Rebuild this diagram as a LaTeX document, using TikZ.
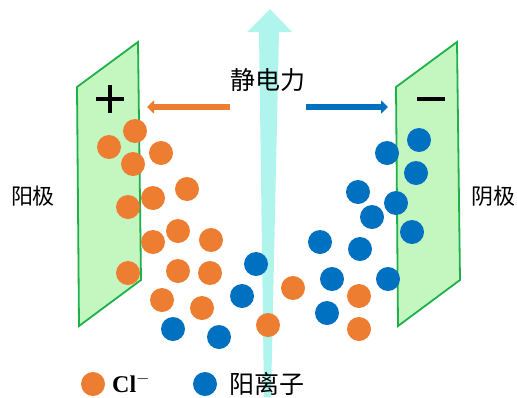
\documentclass[tikz,border=0pt]{standalone}
\usepackage{fontspec}
\setmainfont{Liberation Serif}
\newfontfamily\cjk{Noto Sans CJK SC}
\usetikzlibrary{arrows.meta}
\definecolor{clorange}{HTML}{ED7D31}
\definecolor{catblue}{HTML}{0070C0}
\definecolor{platefill}{HTML}{C4F6C0}
\definecolor{plateedge}{HTML}{1DB04B}
\definecolor{fieldcyan}{HTML}{B0F4EE}

\begin{document}
\begin{tikzpicture}[x=1pt, y=-1pt,
  plate/.style={draw=plateedge, fill=platefill, line width=1.8pt, line join=miter},
  ion/.style={circle, inner sep=0pt, minimum size=24pt},
  anion/.style={ion, fill=clorange},
  cation/.style={ion, fill=catblue},
  force/.style={line width=5.5pt, -{Triangle[length=7pt, width=13pt]}},
  sign/.style={line width=3.2pt},
  cntext/.style={font=\cjk\fontsize{22}{22}\selectfont, inner sep=0pt},
  bigtext/.style={font=\cjk\fontsize{25}{25}\selectfont, inner sep=0pt}
]
\useasboundingbox (0,0) rectangle (517,397);

% electrodes
\draw[plate] (77,87) -- (138,42) -- (141,280) -- (79,326) -- cycle;
\draw[plate] (396,87) -- (457,42) -- (460,280) -- (398,326) -- cycle;
\draw[sign] (96,99) -- (124,99) (110,85) -- (110,113);
\draw[sign] (417,99) -- (445,99);

% electrostatic force direction (tapered arrow)
\fill[fieldcyan] (264,397) -- (259,32) -- (247,32) -- (270,9)
  -- (292,32) -- (279,32) -- (271,397) -- cycle;

% Cl- ions
\foreach \x/\y [count=\i] in {135/131, 109/147, 133/164, 161/153, 187/189,
    153/198, 128/207, 178/231, 153/242, 211/240, 128/273, 178/271, 210/273,
    162/300, 202/308, 293/288, 268/325, 359/296, 359/329}
  \node[anion] (cl\i) at (\x,\y) {};

% cations
\foreach \x/\y [count=\i] in {419/140, 387/153, 416/173, 358/192, 396/203,
    372/217, 412/232, 320/242, 360/249, 256/264, 332/279, 388/279,
    242/296, 327/313, 173/329, 219/337}
  \node[cation] (cat\i) at (\x,\y) {};

% force arrows
\coordinate (lfrom) at (230,107);
\coordinate (lto) at (147,107);
\coordinate (rfrom) at (306,107);
\coordinate (rto) at (388,107);
\draw[force, clorange] (lfrom) -- (lto);
\draw[force, catblue] (rfrom) -- (rto);

\node[bigtext] (force) at (268,80) {静电力};
\node[cntext] (anode) at (33,196) {阳极};
\node[cntext] (cathode) at (493,196) {阴极};

% legend
\node[anion] (keycl) at (93,384) {};
\node[anchor=west, inner sep=0pt, font=\bfseries\fontsize{24}{24}\selectfont]
  (keycltext) at (112,383) {Cl$^{-}$};
\node[cation] (keycat) at (205,384) {};
\node[bigtext, anchor=west] (keycattext) at (229,384) {阳离子};

\end{tikzpicture}
\end{document}
